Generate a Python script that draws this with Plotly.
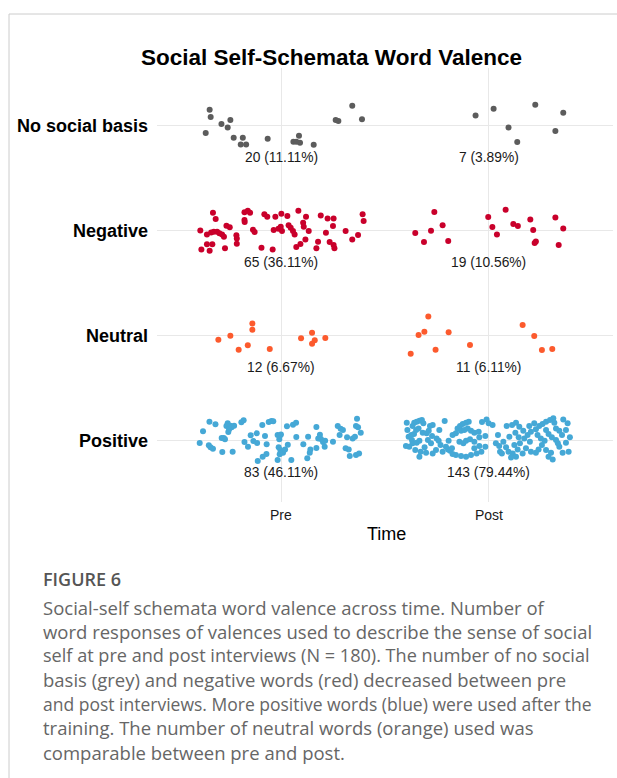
import plotly.graph_objects as go

# ---------------------------------------------------------------- data
N_TOTAL = 180
times = ["Pre", "Post"]                                   # x positions 1, 2
valences = ["Positive", "Neutral", "Negative", "No social basis"]  # y positions 1..4
counts_pre = [83, 12, 65, 20]
counts_post = [143, 11, 19, 7]
colors = ["#45a8d6", "#fc5a2d", "#c9002b", "#5c5c5c"]

# jittered offsets of each word response (x in time units, y in category units)
nosocial_pre_dx = [-0.346, -0.341, -0.365, -0.289, -0.259, -0.246, -0.230, -0.186, -0.196, -0.170,
                   -0.066, 0.058, 0.072, 0.085, 0.090, 0.156, 0.262, 0.275, 0.342, 0.389]
nosocial_pre_dy = [0.152, 0.083, -0.070, 0.016, -0.016, 0.054, -0.114, -0.114, -0.178, -0.178,
                   -0.124, -0.152, -0.152, -0.095, -0.162, -0.181, 0.054, 0.044, 0.190, 0.063]
nosocial_post_dx = [-0.063, 0.024, 0.096, 0.138, 0.225, 0.322, 0.360]
nosocial_post_dy = [0.098, 0.162, -0.016, -0.156, 0.200, -0.051, 0.124]

negative_pre_dx = [-0.330, -0.317, -0.391, -0.359, -0.339, -0.326, -0.310, -0.299, -0.286, -0.277,
                   -0.265, -0.249, -0.359, -0.333, -0.386, -0.346, -0.272, -0.217, -0.215, -0.215,
                   -0.178, -0.162, -0.151, -0.178, -0.177, -0.137, -0.129, -0.096, -0.082, -0.068,
                   -0.029, -0.042, -0.037, -0.014, 0.000, 0.029, -0.003, 0.003, 0.035, 0.045,
                   0.056, 0.064, 0.082, 0.105, 0.119, 0.108, 0.132, 0.116, 0.092, 0.072,
                   0.190, 0.223, 0.252, 0.249, 0.215, 0.177, 0.169, 0.233, 0.252, 0.256,
                   0.310, 0.342, 0.370, 0.392, 0.397]
negative_pre_dy = [0.171, 0.111, 0.003, -0.035, -0.016, -0.010, -0.010, -0.025, -0.035, -0.057,
                   0.048, 0.032, -0.130, -0.130, -0.178, -0.190, -0.168, -0.044, -0.073, -0.124,
                   0.175, 0.190, 0.171, 0.102, 0.083, 0.010, -0.013, -0.162, 0.156, 0.133,
                   0.133, -0.178, 0.006, 0.019, 0.162, 0.140, 0.038, -0.003, 0.051, 0.029,
                   -0.003, -0.035, 0.190, 0.076, 0.133, 0.038, -0.003, -0.083, -0.127, -0.156,
                   0.146, 0.117, 0.117, 0.044, -0.019, -0.105, -0.168, -0.108, -0.137, -0.168,
                   -0.003, -0.083, -0.041, 0.156, 0.092]
negative_post_dx = [-0.354, -0.312, -0.278, -0.262, -0.222, -0.195, -0.002, 0.018, 0.040, 0.082,
                    0.119, 0.141, 0.201, 0.215, 0.222, 0.228, 0.322, 0.360, 0.338]
negative_post_dy = [-0.022, -0.108, 0.000, 0.178, 0.051, -0.098, 0.130, 0.035, -0.035, 0.200,
                    0.063, 0.044, 0.108, 0.006, -0.117, -0.102, 0.127, 0.022, -0.137]

neutral_pre_dx = [-0.304, -0.246, -0.206, -0.162, -0.140, -0.140, -0.056, 0.095, 0.148, 0.161,
                  0.148, 0.212]
neutral_pre_dy = [-0.038, 0.000, -0.133, -0.092, 0.117, 0.057, -0.127, -0.025, 0.029, -0.044,
                  -0.076, -0.022]
neutral_post_dx = [-0.376, -0.338, -0.310, -0.291, -0.256, -0.193, -0.090, 0.164, 0.220, 0.257,
                   0.307]
neutral_post_dy = [-0.171, 0.006, 0.038, 0.184, -0.133, 0.032, -0.089, 0.102, -0.003, -0.137,
                   -0.127]

positive_pre_dx = [-0.347, -0.318, -0.378, -0.394, -0.350, -0.342, -0.330, -0.285, -0.288, -0.278,
                   -0.272, -0.259, -0.265, -0.246, -0.252, -0.256, -0.240, -0.228, -0.235, -0.193,
                   -0.182, -0.178, -0.161, -0.148, -0.119, -0.135, -0.117, -0.092, -0.079, -0.071,
                   -0.072, -0.061, -0.048, -0.039, -0.090, -0.114, -0.018, -0.008, -0.002, -0.010,
                   -0.013, -0.018, -0.005, 0.003, -0.008, 0.008, 0.018, 0.031, 0.027, 0.048,
                   0.056, 0.071, 0.072, 0.106, 0.140, 0.125, 0.137, 0.129, 0.169, 0.169,
                   0.178, 0.191, 0.201, 0.209, 0.211, 0.249, 0.272, 0.286, 0.297, 0.281,
                   0.317, 0.310, 0.325, 0.344, 0.355, 0.360, 0.365, 0.370, 0.383, 0.330,
                   0.360, 0.375, 0.186]
positive_pre_dy = [0.181, 0.156, 0.089, -0.022, -0.044, -0.063, -0.076, -0.108, 0.025, 0.025,
                   0.013, 0.165, 0.140, 0.143, 0.108, 0.083, 0.127, 0.143, -0.105, 0.175,
                   0.194, -0.013, -0.057, 0.051, 0.070, -0.003, -0.022, 0.149, 0.044, -0.035,
                   -0.127, 0.178, 0.187, 0.184, -0.152, -0.194, 0.054, 0.044, 0.060, 0.013,
                   -0.063, -0.184, -0.089, -0.108, -0.130, -0.114, -0.083, -0.038, 0.137, -0.184,
                   0.152, 0.171, 0.035, -0.035, -0.083, -0.168, -0.114, 0.038, 0.130, -0.070,
                   0.022, 0.016, -0.013, -0.057, 0.000, -0.010, 0.140, 0.114, 0.102, 0.054,
                   0.032, -0.073, -0.083, 0.022, 0.038, 0.140, 0.210, 0.127, 0.076, -0.146,
                   -0.137, -0.121, 0.057]
positive_post_dx = [-0.395, -0.392, -0.399, -0.386, -0.367, -0.359, -0.347, -0.334, -0.322, -0.315,
                    -0.350, -0.338, -0.360, -0.370, -0.367, -0.347, -0.334, -0.354, -0.328, -0.309,
                    -0.318, -0.299, -0.289, -0.283, -0.270, -0.293, -0.278, -0.302, -0.270, -0.254,
                    -0.251, -0.241, -0.232, -0.273, -0.238, -0.334, -0.383, -0.373, -0.212, -0.222,
                    -0.206, -0.196, -0.186, -0.177, -0.193, -0.174, -0.158, -0.150, -0.138, -0.125,
                    -0.109, -0.096, -0.133, -0.117, -0.101, -0.085, -0.069, -0.048, -0.141, -0.122,
                    -0.109, -0.090, -0.069, -0.045, -0.158, -0.133, -0.109, -0.085, -0.058, -0.035,
                    -0.016, -0.174, -0.045, -0.069, -0.016, 0.000, 0.019, -0.032, -0.010,
                    0.045, 0.035, 0.051, 0.071, 0.084, 0.096, 0.116, 0.132, 0.108, 0.087,
                    0.113, 0.132, 0.148, 0.167, 0.129, 0.100, 0.124, 0.151, 0.172, 0.188,
                    0.204, 0.180, 0.204, 0.164, 0.064, 0.140, 0.196, 0.220, 0.199, 0.055,
                    0.145,
                    0.228, 0.244, 0.260, 0.277, 0.296, 0.312, 0.317, 0.325, 0.341, 0.360,
                    0.381, 0.392, 0.373, 0.386, 0.357, 0.341, 0.325, 0.305, 0.289, 0.270,
                    0.257, 0.241, 0.228, 0.277, 0.301, 0.309, 0.289, 0.252, 0.236, 0.277,
                    0.373, 0.354, 0.334]
positive_post_dy = [0.171, 0.102, -0.051, 0.038, 0.140, 0.171, 0.181, 0.190, 0.197, 0.165,
                    0.102, 0.117, 0.063, 0.006, -0.025, -0.019, 0.000, -0.089, -0.105, -0.063,
                    0.076, 0.070, 0.095, 0.140, 0.149, 0.006, -0.025, -0.114, -0.121, -0.089,
                    0.022, 0.000, -0.041, 0.044, 0.102, -0.152, -0.057, 0.054, 0.187, -0.105,
                    -0.057, -0.083, -0.095, -0.073, 0.000, 0.054, 0.070, 0.117, 0.140, 0.159,
                    0.171, 0.181, 0.095, 0.102, 0.117, 0.095, 0.076, 0.086, -0.010, -0.025,
                    0.000, 0.013, -0.010, 0.032, -0.137, -0.146, -0.152, -0.137, -0.121, -0.105,
                    -0.057, -0.127, -0.051, -0.073, 0.044, 0.165, 0.149, 0.178, 0.203,
                    0.054, -0.025, -0.051, -0.010, -0.063, -0.105, -0.121, -0.152, -0.159, 0.140,
                    0.149, 0.171, 0.133, 0.095, 0.076, 0.038, -0.041, -0.025, 0.022, 0.054,
                    0.086, -0.073, -0.105, -0.121, -0.121, -0.083, 0.140, 0.165, -0.010, -0.105,
                    0.032,
                    0.108, 0.140, 0.159, 0.181, 0.197, 0.213, 0.171, 0.117, 0.095, 0.203,
                    0.165, 0.032, -0.019, -0.105, -0.114, -0.057, 0.006, 0.032, 0.063, 0.000,
                    -0.041, -0.083, -0.114, -0.089, -0.114, -0.178, -0.152, 0.022, 0.054, 0.102,
                    0.102, 0.054, -0.025]

jitter = {
    ("Positive", "Pre"): (positive_pre_dx, positive_pre_dy),
    ("Positive", "Post"): (positive_post_dx, positive_post_dy),
    ("Neutral", "Pre"): (neutral_pre_dx, neutral_pre_dy),
    ("Neutral", "Post"): (neutral_post_dx, neutral_post_dy),
    ("Negative", "Pre"): (negative_pre_dx, negative_pre_dy),
    ("Negative", "Post"): (negative_post_dx, negative_post_dy),
    ("No social basis", "Pre"): (nosocial_pre_dx, nosocial_pre_dy),
    ("No social basis", "Post"): (nosocial_post_dx, nosocial_post_dy),
}

caption_title = "FIGURE 6"
caption_lines = [
    "Social-self schemata word valence across time. Number of",
    "word responses of valences used to describe the sense of social",
    "self at pre and post interviews (N = 180). The number of no social",
    "basis (grey) and negative words (red) decreased between pre",
    "and post interviews. More positive words (blue) were used after the",
    "training. The number of neutral words (orange) used was",
    "comparable between pre and post.",
]
# the justified caption tightens its two longest lines slightly
caption_sizes = [18.5, 18.5, 18.1, 18.5, 17.5, 18.5, 18.5]

# ---------------------------------------------------------------- layout geometry
W, H = 617, 778
ML, MR, MT, MB = 157, 4, 68, 276
PW, PH = W - ML - MR, H - MT - MB


def px_x(px):
    return (px - ML) / PW


def px_y(py):
    return (H - MB - py) / PH


FONT = "Liberation Sans, Arial, sans-serif"
CAP_FONT = "Open Sans, Lato, sans-serif"

fig = go.Figure()
annotations = []

for vi, val in enumerate(valences):
    for ti, t in enumerate(times):
        dx, dy = jitter[(val, t)]
        n = (counts_pre if t == "Pre" else counts_post)[vi]
        assert len(dx) == n and len(dy) == n
        fig.add_trace(go.Scatter(
            x=[ti + 1 + d for d in dx],
            y=[vi + 1 + d for d in dy],
            mode="markers",
            marker=dict(color=colors[vi], size=6, line=dict(width=0)),
            showlegend=False,
            hoverinfo="skip",
        ))
        annotations.append(dict(
            x=ti + 1, y=vi + 1 - 0.30, xref="x", yref="y",
            text=f"{n} ({100 * n / N_TOTAL:.2f}%)",
            showarrow=False, xanchor="center", yanchor="middle",
            font=dict(family=FONT, size=13.8, color="#1a1a1a"),
        ))
    annotations.append(dict(
        x=px_x(150), y=vi + 1, xref="paper", yref="y",
        text=f"<b>{val}</b>", showarrow=False, xanchor="right", yanchor="middle",
        font=dict(family=FONT, size=18, color="#000000"),
    ))

for ti, t in enumerate(times):
    annotations.append(dict(
        x=ti + 1, y=px_y(515), xref="x", yref="paper", text=t, showarrow=False,
        xanchor="center", yanchor="middle",
        font=dict(family=FONT, size=14, color="#1a1a1a"),
    ))

annotations.append(dict(
    x=px_x(386), y=px_y(534), xref="paper", yref="paper", text="Time",
    showarrow=False, xanchor="center", yanchor="middle",
    font=dict(family=FONT, size=18, color="#000000"),
))
annotations.append(dict(
    x=px_x(331), y=px_y(58), xref="paper", yref="paper",
    text="<b>Social Self-Schemata Word Valence</b>", showarrow=False,
    xanchor="center", yanchor="middle",
    font=dict(family=FONT, size=22.5, color="#000000"),
))

# figure caption below the chart
annotations.append(dict(
    x=px_x(41), y=px_y(579), xref="paper", yref="paper",
    text=caption_title, showarrow=False, xanchor="left", yanchor="middle",
    font=dict(family=CAP_FONT, size=18, color="#555555", weight=600),
))
for i, line in enumerate(caption_lines):
    annotations.append(dict(
        x=px_x(41), y=px_y(607 + 24.2 * i), xref="paper", yref="paper",
        text=line, showarrow=False, xanchor="left", yanchor="middle",
        font=dict(family=CAP_FONT, size=caption_sizes[i], color="#666666"),
    ))

frame = dict(type="line", xref="paper", yref="paper", line=dict(color="#cccccc", width=1))
shapes = [
    dict(frame, x0=px_x(9), x1=px_x(617), y0=px_y(14), y1=px_y(14)),
    dict(frame, x0=px_x(9), x1=px_x(9), y0=px_y(14), y1=px_y(778)),
]

fig.update_layout(
    width=W, height=H,
    margin=dict(l=ML, r=MR, t=MT, b=MB, pad=0),
    paper_bgcolor="white", plot_bgcolor="white",
    annotations=annotations, shapes=shapes,
    showlegend=False,
    xaxis=dict(range=[0.4, 2.6], tickvals=[1, 2], showticklabels=False,
               showgrid=True, gridcolor="#e8e8e8", gridwidth=1, zeroline=False,
               showline=False, ticks="", fixedrange=True),
    yaxis=dict(range=[0.416, 4.55], tickvals=[1, 2, 3, 4], showticklabels=False,
               showgrid=True, gridcolor="#e8e8e8", gridwidth=1, zeroline=False,
               showline=False, ticks="", fixedrange=True),
)

fig.write_html("out.html")
